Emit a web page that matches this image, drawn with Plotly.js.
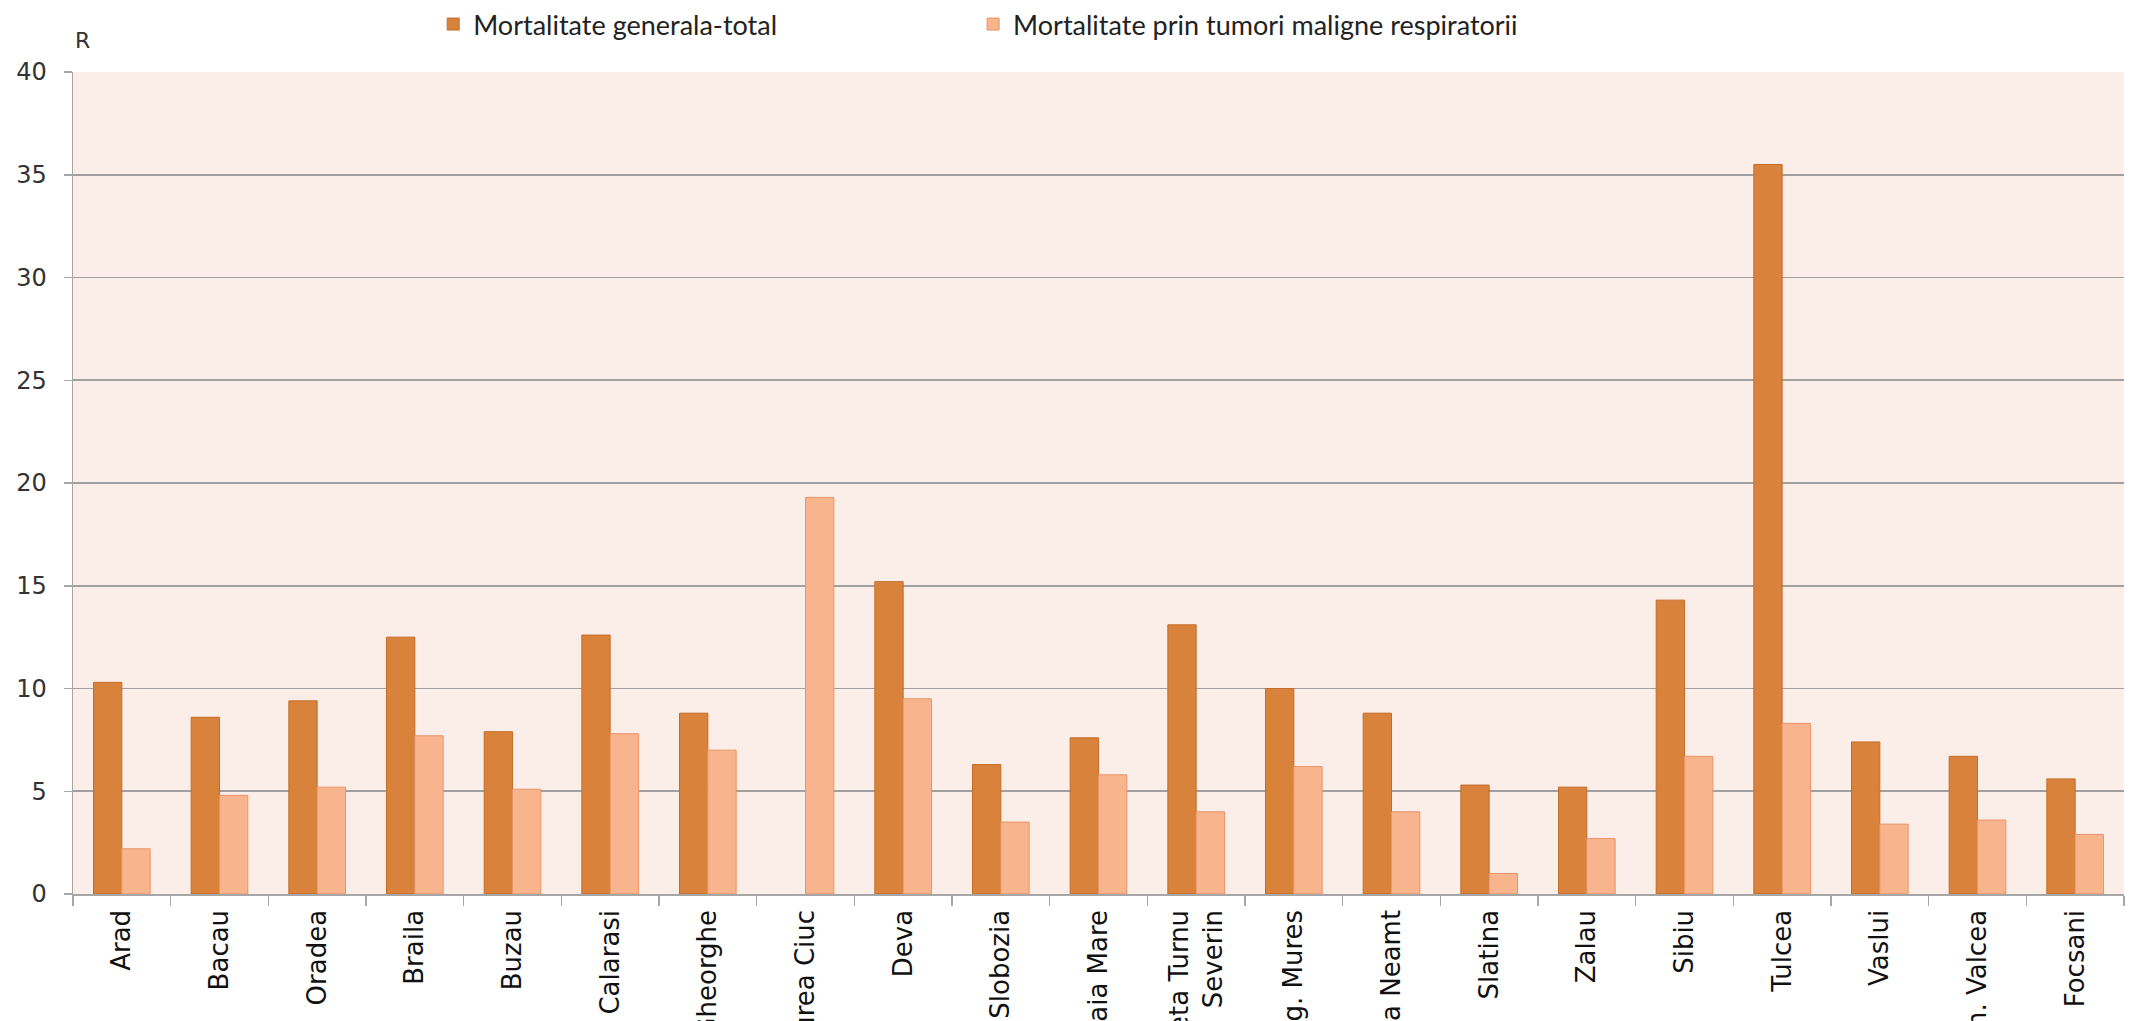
<!DOCTYPE html>
<html>
<head>
<meta charset="utf-8">
<script src="https://cdn.plot.ly/plotly-3.0.1.min.js"></script>
<style>html,body{margin:0;padding:0;background:#fff;}#chart{width:2134px;height:1021px;}</style>
</head>
<body>
<div id="chart"></div>
<script>
const categories = ["Arad","Bacau","Oradea","Braila","Buzau","Calarasi","Sf. Gheorghe","Miercurea Ciuc","Deva","Slobozia","Baia Mare","Drobeta Turnu<br>Severin","Tg. Mures","Piatra Neamt","Slatina","Zalau","Sibiu","Tulcea","Vaslui","Rm. Valcea","Focsani"];
const seriesNames = ["Mortalitate generala-total","Mortalitate prin tumori maligne respiratorii"];
const mortalitateGenerala = [10.3, 8.6, 9.4, 12.5, 7.9, 12.6, 8.8, null, 15.2, 6.3, 7.6, 13.1, 10.0, 8.8, 5.3, 5.2, 14.3, 35.5, 7.4, 6.7, 5.6];
const mortalitateTumori = [2.2, 4.8, 5.2, 7.7, 5.1, 7.8, 7.0, 19.3, 9.5, 3.5, 5.8, 4.0, 6.2, 4.0, 1.0, 2.7, 6.7, 8.3, 3.4, 3.6, 2.9];
const yTicks = [0,5,10,15,20,25,30,35,40];
const yAxisLabel = "R";

const traces = [
  {type:"bar", name:seriesNames[0], x:categories, y:mortalitateGenerala, legend:"legend",
   marker:{color:"#D9823B", line:{color:"#C46D2A", width:1}}},
  {type:"bar", name:seriesNames[1], x:categories, y:mortalitateTumori, legend:"legend2",
   marker:{color:"#F8B48D", line:{color:"#E8956A", width:1}}}
];

const legendFont = {family:"Liberation Sans Narrow, Lato, sans-serif", size:27, color:"#222"};

const layout = {
  width:2134, height:1021,
  margin:{l:73, r:10, t:72, b:127, pad:0, autoexpand:false},
  paper_bgcolor:"#ffffff",
  plot_bgcolor:"#FBEDE7",
  barmode:"group",
  bargap:0.42,
  bargroupgap:0,
  showlegend:true,
  legend:{orientation:"h", xref:"container", yref:"container", x:0.203, xanchor:"left", y:0.976, yanchor:"middle",
          font:legendFont, bgcolor:"rgba(0,0,0,0)"},
  legend2:{orientation:"h", xref:"container", yref:"container", x:0.456, xanchor:"left", y:0.976, yanchor:"middle",
          font:legendFont, bgcolor:"rgba(0,0,0,0)"},
  xaxis:{type:"category", tickangle:-90, tickson:"boundaries", ticks:"outside", ticklen:10,
         ticklabelstandoff:4,
         tickcolor:"#A6A6A6", tickwidth:1.5, showline:true, linecolor:"#A6A6A6", linewidth:1.5,
         showgrid:false, automargin:false,
         tickfont:{family:"DejaVu Sans, sans-serif", size:26, color:"#111"}},
  yaxis:{range:[0,40], tickvals:yTicks, ticktext:yTicks.map(String), ticks:"outside", ticklen:8,
         ticklabelstandoff:12,
         tickcolor:"#A6A6A6", tickwidth:1.5, showline:true, linecolor:"#A6A6A6", linewidth:1.5,
         showgrid:true, gridcolor:"#A0A0A0", gridwidth:1.6, zeroline:false, automargin:false,
         tickfont:{family:"DejaVu Sans, sans-serif", size:24, color:"#333"}},
  annotations:[{text:yAxisLabel, xref:"paper", yref:"paper", x:0, y:1.038, xanchor:"left", yanchor:"middle",
                showarrow:false, font:{family:"DejaVu Sans, sans-serif", size:22, color:"#333"}}]
};

Plotly.newPlot("chart", traces, layout, {displayModeBar:false, staticPlot:true});
</script>
</body>
</html>
